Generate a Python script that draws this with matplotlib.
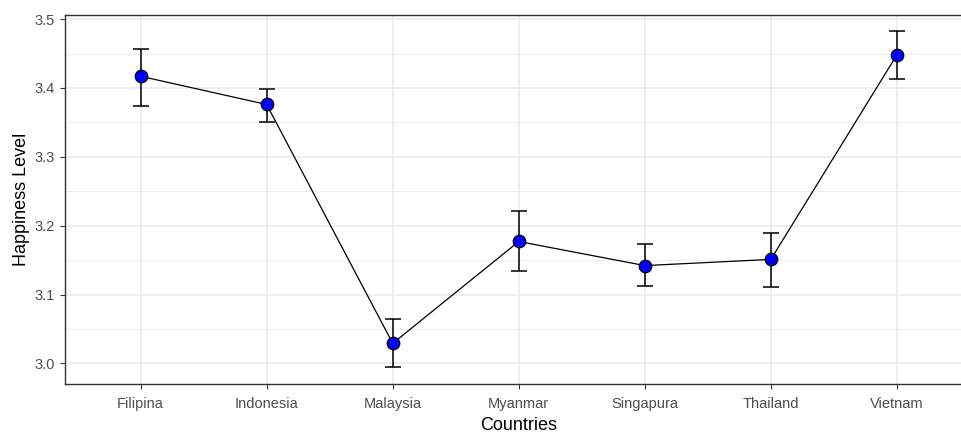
import numpy as np
import matplotlib
matplotlib.use('Agg')
import matplotlib.pyplot as plt
from matplotlib.ticker import MultipleLocator

plt.rcParams['font.family'] = ['Liberation Sans', 'DejaVu Sans']

# mean happiness per country, with error bar ends
countries = ['Filipina', 'Indonesia', 'Malaysia', 'Myanmar', 'Singapura', 'Thailand', 'Vietnam']
means = [3.417, 3.376, 3.029, 3.177, 3.142, 3.151, 3.448]
upper = [3.457, 3.399, 3.064, 3.221, 3.173, 3.190, 3.483]
lower = [3.374, 3.351, 2.995, 3.134, 3.113, 3.111, 3.413]

x = np.arange(1, len(countries) + 1)
yerr = [np.array(means) - np.array(lower), np.array(upper) - np.array(means)]

fig = plt.figure(figsize=(9.61, 4.32), dpi=100)
ax = fig.add_axes([65 / 961, 1 - 384 / 432, 907.5 / 961, 369 / 432])

ax.plot(x, means, color='black', lw=0.9, zorder=3)
ax.errorbar(x, means, yerr=yerr, fmt='none', ecolor='black', elinewidth=1.1,
            capsize=6, capthick=1.1, zorder=3)
ax.plot(x, means, 'o', ms=9, mfc='#0000FF', mec='black', mew=0.9, zorder=4)

ax.set_xlim(0.4, 7.6)
ax.set_ylim(2.970, 3.506)
ax.set_xticks(x)
ax.set_xticklabels(countries)
ax.yaxis.set_major_locator(MultipleLocator(0.1))
ax.yaxis.set_minor_locator(MultipleLocator(0.05))
ax.set_yticklabels([f'{v:.1f}' for v in ax.get_yticks()])

ax.grid(which='major', color='#EBEBEB', lw=1.1, zorder=0)
ax.grid(which='minor', axis='y', color='#EBEBEB', lw=0.6, zorder=0)
ax.set_axisbelow(True)
ax.tick_params(which='major', colors='#333333', length=3.5, width=0.8,
               labelcolor='#4D4D4D', labelsize=10.5, pad=4)
ax.tick_params(axis='x', pad=6)
ax.tick_params(which='minor', length=0)
for s in ax.spines.values():
    s.set_color('#333333')
    s.set_linewidth(1.0)

ax.set_xlabel('Countries', fontsize=13, labelpad=4)
ax.set_ylabel('Happiness Level', fontsize=13, labelpad=3)

fig.savefig('out.png', dpi=100)
